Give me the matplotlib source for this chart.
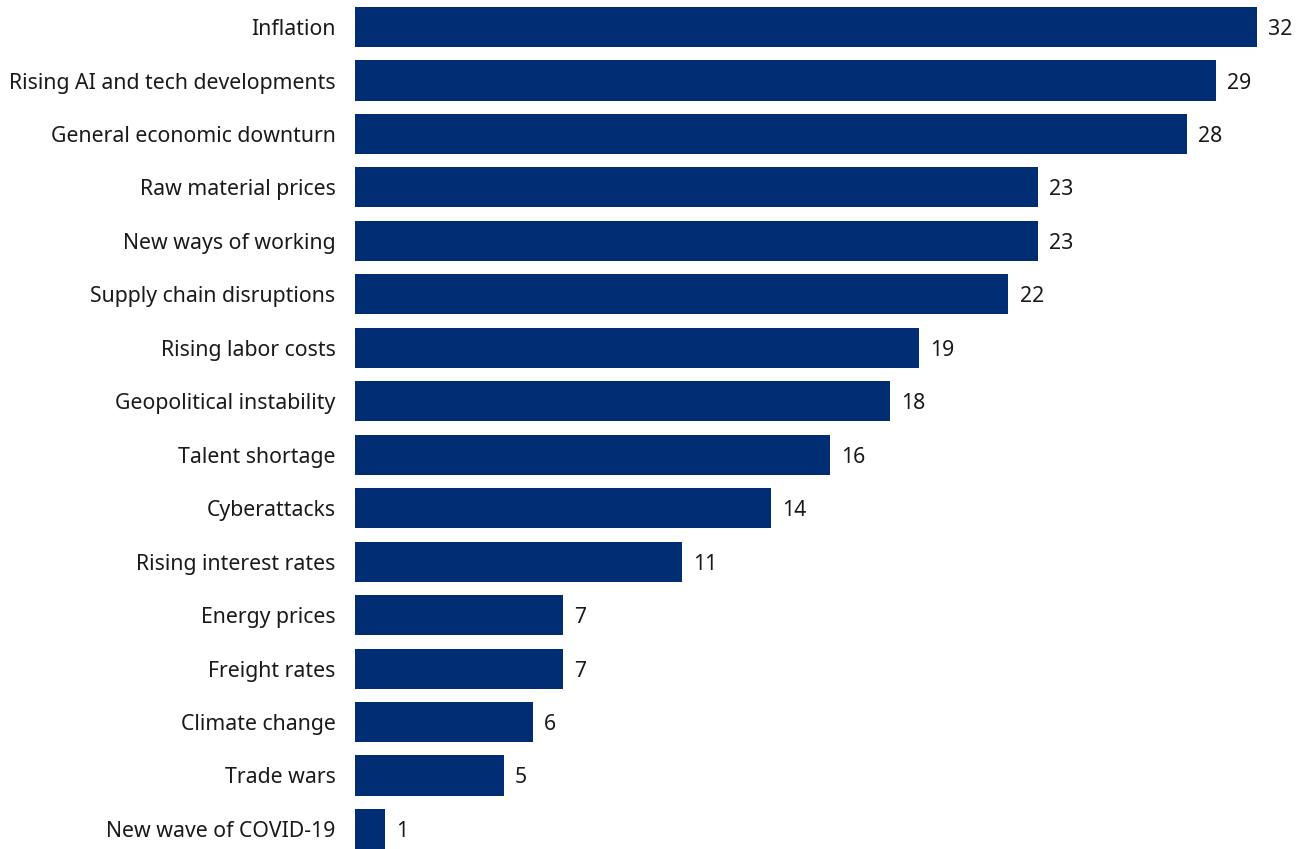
import matplotlib
matplotlib.use("Agg")
import matplotlib.pyplot as plt

categories = [
    "Inflation",
    "Rising AI and tech developments",
    "General economic downturn",
    "Raw material prices",
    "New ways of working",
    "Supply chain disruptions",
    "Rising labor costs",
    "Geopolitical instability",
    "Talent shortage",
    "Cyberattacks",
    "Rising interest rates",
    "Energy prices",
    "Freight rates",
    "Climate change",
    "Trade wars",
    "New wave of COVID-19",
]
values = [32, 29, 28, 23, 23, 22, 19, 18, 16, 14, 11, 7, 7, 6, 5, 1]

BAR_COLOR = "#002D74"
TEXT_COLOR = "#1a1a1a"
XMAX = 30.37

plt.rcParams["font.family"] = ["Noto Sans", "DejaVu Sans"]

fig = plt.figure(figsize=(13.07, 8.49), dpi=100)
ax = fig.add_axes([355 / 1307, 0 / 849, 902 / 1307, 842 / 849])

y = list(range(len(categories)))
ax.barh(y, values, height=0.75, color=BAR_COLOR)
ax.set_xlim(0, XMAX)
ax.set_ylim(len(categories) - 0.625, -0.375)

ax.set_yticks(y)
ax.set_yticklabels(categories, fontsize=15.3, color=TEXT_COLOR)
ax.tick_params(axis="y", length=0, pad=14)
ax.set_xticks([])
for s in ax.spines.values():
    s.set_visible(False)

for yi, v in zip(y, values):
    ax.annotate(str(v), xy=(min(v, XMAX), yi), xytext=(8, -1.8),
                textcoords="offset points", va="center", ha="left",
                fontsize=15.3, color=TEXT_COLOR, annotation_clip=False)

fig.savefig("out.png", dpi=100)
